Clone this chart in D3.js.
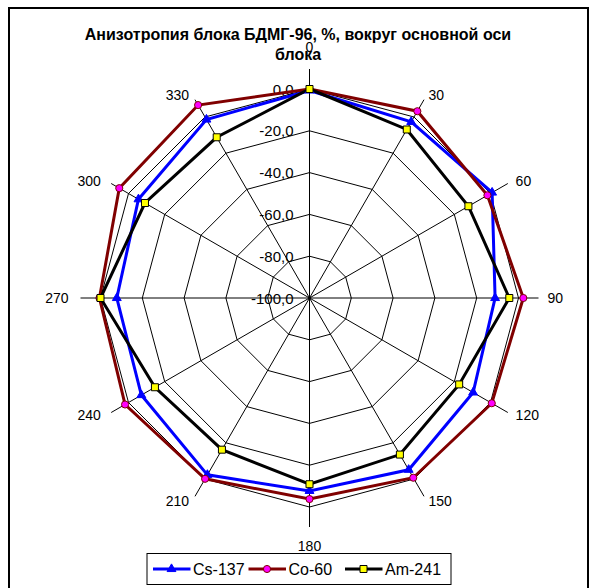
<!DOCTYPE html>
<html>
<head>
<meta charset="utf-8">
<script src="https://cdn.jsdelivr.net/npm/d3@7"></script>
<style>
  html, body { margin: 0; padding: 0; background: #fff; }
  svg { display: block; font-family: Arial, "Liberation Sans", sans-serif; }
</style>
</head>
<body>
<svg id="chart" width="597" height="588"></svg>
<script>
// ---- data ----
const categories = ["0", "30", "60", "90", "120", "150", "180", "210", "240", "270", "300", "330"];
const cs137 = [-0.7, -2.7, 0.9, -11.2, -9.6, -5.1, -7.7, -2.3, -7.1, -7.8, -5.5, -1.4];
const co60  = [0.0, 3.2, -1.7, 2.3, 0.7, -0.7, -3.8, -0.1, 1.9, 0.5, 5.1, 6.6];
const am241 = [0.0, -6.9, -12.2, -4.4, -17.3, -13.5, -10.9, -16.2, -14.6, 0.0, -9.1, -11.2];
const ringTicks = [-100, -80, -60, -40, -20, 0];
const seriesNames = ["Cs-137", "Co-60", "Am-241"];
const titleLines = ["Анизотропия блока БДМГ-96, %, вокруг основной оси", "блока"];

// ---- setup ----
const svg = d3.select("#chart");
const cx = 309.5, cy = 298, R = 209, tickR = 229;

// outer chart frame
svg.append("rect").attr("x", 9).attr("y", 8).attr("width", 579).attr("height", 600)
  .attr("fill", "none").attr("stroke", "#000").attr("stroke-width", 2);

const g = svg.append("g").attr("transform", `translate(${cx},${cy})`);

const r = d3.scaleLinear().domain([-100, 0]).range([0, R]);
const ang = (i) => i * 2 * Math.PI / categories.length;

// rings
const ringLine = d3.lineRadial().angle((d, i) => ang(i)).radius(d => r(d)).curve(d3.curveLinearClosed);
ringTicks.filter(t => t > -100).forEach(t => {
  g.append("path").attr("d", ringLine(categories.map(() => t)))
    .attr("fill", "none").attr("stroke", "#000").attr("stroke-width", 1);
});

// spokes (with tick extension beyond outer ring)
categories.forEach((c, i) => {
  const a = ang(i);
  g.append("line").attr("x1", 0).attr("y1", 0)
    .attr("x2", tickR * Math.sin(a)).attr("y2", -tickR * Math.cos(a))
    .attr("stroke", "#000").attr("stroke-width", 1);
});

// value labels along 0 axis
const fmt = d3.formatLocale({decimal: ",", thousands: " ", grouping: [3], currency: ["", ""], minus: "-"}).format(".1f");
g.selectAll(".vlab").data(ringTicks).enter().append("text")
  .attr("x", -16).attr("y", d => -r(d))
  .attr("text-anchor", "end").attr("dominant-baseline", "central")
  .attr("font-size", 15).attr("fill", "#000")
  .text(d => fmt(d));

// category labels
categories.forEach((c, i) => {
  const a = ang(i);
  const s = Math.sin(a), co = Math.cos(a);
  const tx = tickR * s, ty = -tickR * co;
  let x, y, anchor;
  if (Math.abs(s) < 0.01) {
    x = tx; anchor = "middle";
    y = co > 0 ? ty - 22 : ty + 19;
  } else {
    anchor = s > 0 ? "start" : "end";
    x = tx + s * (s > 0 ? 9 : 12);
    y = ty - co * 5.5;
  }
  g.append("text").attr("x", x).attr("y", y)
    .attr("text-anchor", anchor).attr("dominant-baseline", "central")
    .attr("font-size", 14).attr("fill", "#000").text(c);
});

// series
const series = [
  {name: seriesNames[0], values: cs137, color: "#0000ff", marker: d3.symbolTriangle, fill: "#0000ff", mstroke: "#0000ff", size: 34},
  {name: seriesNames[1], values: co60,  color: "#800000", marker: d3.symbolCircle,   fill: "#ff00ff", mstroke: "#800000", size: 40},
  {name: seriesNames[2], values: am241, color: "#000000", marker: d3.symbolSquare,   fill: "#ffff00", mstroke: "#000000", size: 49}
];

const dataLine = d3.lineRadial().angle((d, i) => ang(i)).radius(d => r(d)).curve(d3.curveLinearClosed);
series.forEach(s => {
  g.append("path").attr("d", dataLine(s.values))
    .attr("fill", "none").attr("stroke", s.color).attr("stroke-width", 3)
    .attr("stroke-linejoin", "miter");
});
series.forEach(s => {
  g.selectAll(null).data(s.values).enter().append("path")
    .attr("d", d3.symbol().type(s.marker).size(s.size))
    .attr("transform", (d, i) => `translate(${r(d) * Math.sin(ang(i))},${-r(d) * Math.cos(ang(i))})`)
    .attr("fill", s.fill).attr("stroke", s.mstroke).attr("stroke-width", 1);
});

// title
svg.selectAll(".title").data(titleLines).enter().append("text")
  .attr("x", 298).attr("y", (d, i) => 40 + i * 20)
  .attr("text-anchor", "middle").attr("font-weight", "bold").attr("font-size", 16)
  .attr("fill", "#000").text(d => d);

// legend
const leg = svg.append("g");
leg.append("rect").attr("x", 147).attr("y", 553.5).attr("width", 304).attr("height", 31)
  .attr("fill", "#fff").attr("stroke", "#000").attr("stroke-width", 1);
const legX = [153, 248.5, 345];
series.forEach((s, i) => {
  const x0 = legX[i], ly = 569;
  leg.append("line").attr("x1", x0).attr("x2", x0 + 37.5).attr("y1", ly).attr("y2", ly)
    .attr("stroke", s.color).attr("stroke-width", 3);
  leg.append("path").attr("d", d3.symbol().type(s.marker).size(s.size))
    .attr("transform", `translate(${x0 + 18.5},${ly})`)
    .attr("fill", s.fill).attr("stroke", s.mstroke).attr("stroke-width", 1);
  leg.append("text").attr("x", x0 + 40).attr("y", ly).attr("dominant-baseline", "central")
    .attr("font-size", 16).attr("fill", "#000").text(s.name);
});
</script>
</body>
</html>
